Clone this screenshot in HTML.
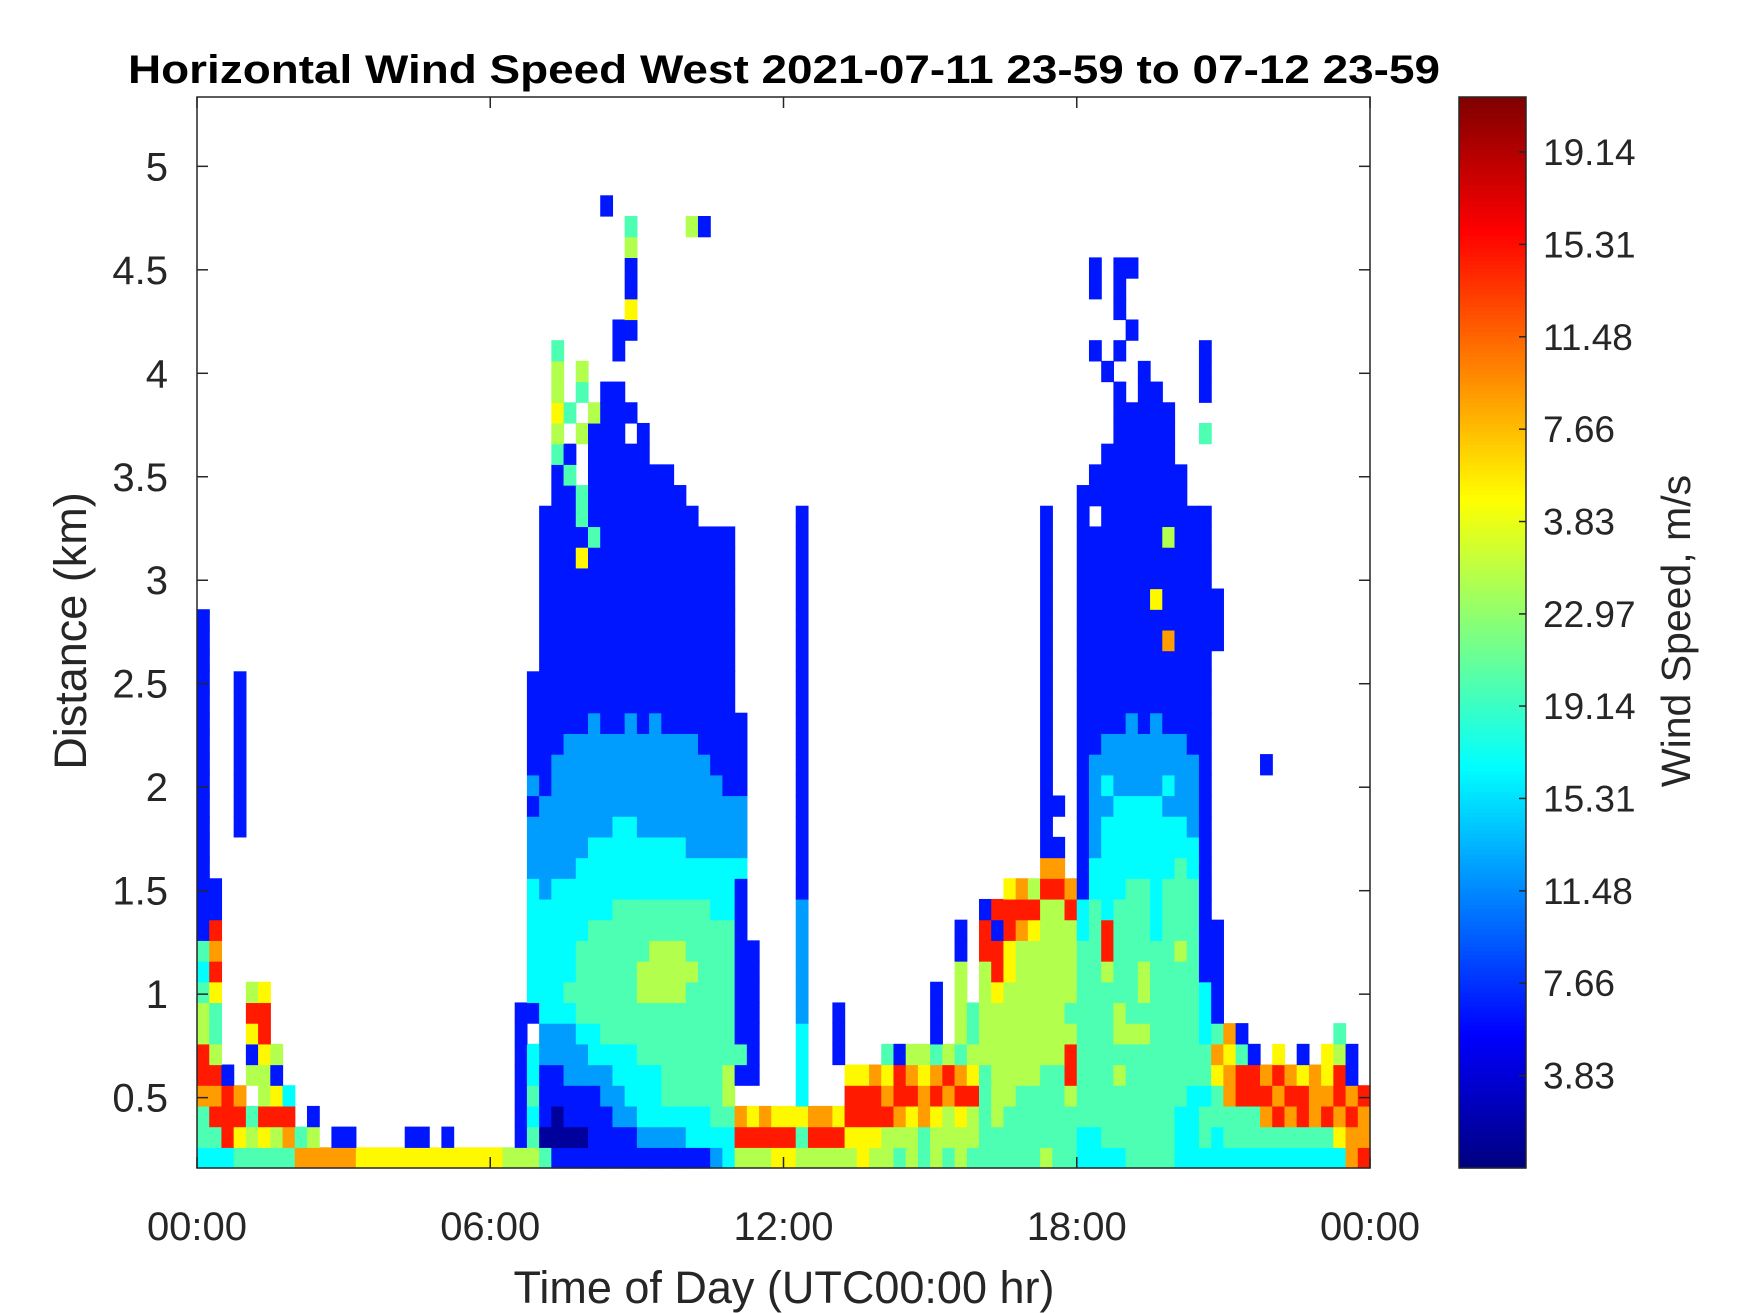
<!DOCTYPE html>
<html><head><meta charset="utf-8"><style>
html,body{margin:0;padding:0;background:#fff;}
svg{display:block;font-family:"Liberation Sans",Arial,sans-serif;}
</style></head><body>
<svg id="chart" width="1750" height="1313" viewBox="0 0 1750 1313" xmlns="http://www.w3.org/2000/svg">
<rect width="1750" height="1313" fill="#fff"/>
<text x="784" y="83" text-anchor="middle" font-size="40" font-weight="bold" fill="#000" textLength="1312" lengthAdjust="spacingAndGlyphs">Horizontal Wind Speed West 2021-07-11 23-59 to 07-12 23-59</text>
<g id="cells"></g>
<g id="axes"></g>
<g id="cbar"></g>
<text x="784" y="1303" text-anchor="middle" font-size="45" fill="#262626">Time of Day (UTC00:00 hr)</text>
<text transform="translate(86,631) rotate(-90)" text-anchor="middle" font-size="45" fill="#262626">Distance (km)</text>
<text transform="translate(1690,631) rotate(-90)" text-anchor="middle" font-size="41" fill="#262626">Wind Speed, m/s</text>
</svg>
<script>
// ---- data ----
const xTickHours = [0, 6, 12, 18, 24];
const xTickLabels = ["00:00", "06:00", "12:00", "18:00", "00:00"];
const yTickKm = [0.5, 1, 1.5, 2, 2.5, 3, 3.5, 4, 4.5, 5];
const yTickLabels = ["0.5", "1", "1.5", "2", "2.5", "3", "3.5", "4", "4.5", "5"];
const cbTickValues = [3.83, 7.66, 11.49, 15.32, 19.15, 22.97, 26.8, 30.63, 34.46, 38.29, 42.12];
const cbTickLabels = ["3.83", "7.66", "11.48", "15.31", "19.14", "22.97", "3.83", "7.66", "11.48", "15.31", "19.14"];
// speed (m/s) for each colour code used in the gate grid
const levelSpeeds = [1.3, 6.5, 12.4, 16.6, 20, 24.4, 28, 32, 37.7, 42.2];
// range-gate rows (index = gate, bottom 0.16 km, 0.1 km each); "startColumn:codes", 96 columns of 15 min
const gateRuns = [
"0:333444447777766666666666655 27:54111111111111123 44:55566555556554545454 64:44444544 72:33334444333 83:3 84:333333333378",
"0:4486565745.11 17:11 20:1 26:1 27:4 28:0000111122223333 44:888884888 53:66655545555 64:44444444 72:33444444334 83:3 84:444444444677",
"0:48884888.1 26:1 27:3 28:1011112233333344 44:767666776 53:88887676565 64:45444444 72:44444444334 83:4 84:444787878787",
"0:7787.563 26:1 27:4 28:1111122333444445 49:3 53:88878878788 64:45544445 72:44444444433 83:4 84:788878877878",
"0:881.551 26:1 27:3 28:1122223333444445 44:11 49:3 53:66768767876 64:45555448 72:44454444444 83:6 84:78878767681",
"0:85..165 26:1 27:3 28:2222333344444444 44:41 49:3 52:1 56:41554545 64:55555558 72:44444444444 83:7641.6.1.651",
"0:54..68 26:1 28:2223344444444444 44:11 49:3 52:1 60:1 62:5 63:4 64:55555555 72:44455544443 83:471.......4",
"0:54..88 26:1 27:1 28:3334444444444444 44:11 49:2 52:1 60:1 62:5 63:4 64:55555554 72:44454444443 83:1",
"0:46..56 27:3 28:3344444455554444 44:11 49:2 60:1 62:5 64:56555555 72:44444544443 83:1",
"0:38 27:3 28:3334444455555444 44:11 49:2 62:5 64:58655555 72:44544544441 83:1",
"0:47 27:3 28:3334444445554444 44:11 49:2 62:1 64:88655555 72:44844444541 83:1",
"0:18 27:3 28:3333444444444444 44:1 49:2 62:1 64:81876555 72:34844434441 83:1",
"0:11 27:3 28:3333334444444433 44:1 49:2 64:18888558 72:34344434441",
"0:11 27:3 28:2333333333333333 44:1 49:1 66:675887 72:13334434441",
"0:1 27:2 28:2223333333333333 44:3 49:1 69:77 72:13333333431",
"0:1 27:2 28:2222333333332222 44:2 49:1 69:11 72:12333333331",
"0:1 3:1 27:2 28:2222223322222222 44:2 49:1 69:1 72:12333333321",
"0:1 3:1 27:1 28:2222222222222222 44:2 49:1 69:11 72:12233332221",
"0:1 3:1 27:2 28:1222222222222221 44:1 49:1 69:1 72:12322223221",
"0:1 3:1 27:1 28:1222222222222211 44:1 49:1 69:1 72:12222222221 87:1",
"0:1 3:1 27:1 28:1122222222222111 44:1 49:1 69:1 72:11222222211",
"0:1 3:1 27:1 28:1111211212111111 44:1 49:1 69:1 72:11112121111",
"0:1 3:1 27:1 28:1111111111111111 49:1 69:1 72:11111111111",
"0:1 3:1 27:1 28:1111111111111111 49:1 69:1 72:11111111111",
"0:1 28:1111111111111111 49:1 69:1 72:11111111111",
"0:1 28:1111111111111111 49:1 69:1 72:11111117111 83:1",
"0:1 28:1111111111111111 49:1 69:1 72:11111111111 83:1",
"28:1111111111111111 49:1 69:1 72:11111161111 83:1",
"28:1111111111111111 49:1 69:1 72:11111111111",
"28:1116111111111111 49:1 69:1 72:11111111111",
"28:1111411111111111 49:1 69:1 72:11111115111",
"28:1114111111111 49:1 69:1 72:1.111111111",
"29:11411111111 72:111111111",
"29:14.1111111 73:11111111",
"29:41.11111 74:111111",
"29:5.5111.1 75:11111 82:4",
"29:64.5111 75:11111",
"29:5.4.11 75:1.11 82:1",
"29:5 31:5 74:1 77:1 82:1",
"29:4 34:1 73:1 75:1 82:1",
"34:11 76:1",
"35:6 75:1",
"35:1 73:1 75:1",
"35:1 73:1 75:1 76:1",
"35:5",
"35:4 40:5 41:1",
"33:1"
];
// ---- layout ----
const NS = "http://www.w3.org/2000/svg";
const PL = 197, PR = 1370, PT = 97, PB = 1168;
const Y0 = 0.16, Y1 = 5.335, GATE0 = 0.16, GATE = 0.1, NCOL = 96, HOURS = 24;
const CBL = 1459, CBR = 1526, CBMAX = 44.4;
const xScale = h => PL + h / HOURS * (PR - PL);
const yScale = km => PB - (km - Y0) / (Y1 - Y0) * (PB - PT);
const cbScale = v => PB - v / CBMAX * (PB - PT);
function jet(t) {
  const c = v => Math.round(255 * Math.max(0, Math.min(1, v)));
  return "rgb(" + c(1.5 - Math.abs(4 * t - 3)) + "," + c(1.5 - Math.abs(4 * t - 2)) + "," + c(1.5 - Math.abs(4 * t - 1)) + ")";
}
function mk(tag, attrs, parent) {
  const e = document.createElementNS(NS, tag);
  for (const k in attrs) e.setAttribute(k, attrs[k]);
  parent.appendChild(e);
  return e;
}
const cells = document.getElementById("cells");
const colH = HOURS / NCOL;
gateRuns.forEach((row, g) => {
  const lo = GATE0 + g * GATE, hi = lo + GATE;
  const yTop = Math.max(PT, yScale(hi)), yBot = yScale(lo);
  row.split(" ").forEach(run => {
    if (!run) return;
    const [s, codes] = run.split(":");
    const start = parseInt(s, 10);
    for (let j = 0; j < codes.length; j++) {
      const col = start + j;
      const ch = codes[j];
      if (ch === "." || col >= NCOL) continue;
      const v = levelSpeeds[parseInt(ch, 10)];
      const x0 = xScale(col * colH), x1 = xScale((col + 1) * colH);
      const r = mk("rect", {x: x0.toFixed(2), y: yTop.toFixed(2), width: (x1 - x0 + 0.6).toFixed(2), height: (yBot - yTop + 0.6).toFixed(2), fill: jet(v / CBMAX)}, cells);
      
      
    }
  });
});
// axes
const axes = document.getElementById("axes");
const box = mk("rect", {x: PL, y: PT, width: PR - PL, height: PB - PT, fill: "none", stroke: "#262626", "stroke-width": 1.5}, axes);


xTickHours.forEach((h, i) => {
  const x = xScale(h);
  mk("line", {x1: x, y1: PB, x2: x, y2: PB - 11, stroke: "#262626", "stroke-width": 1.5}, axes);
  mk("line", {x1: x, y1: PT, x2: x, y2: PT + 11, stroke: "#262626", "stroke-width": 1.5}, axes);
  const t = mk("text", {x: x, y: 1240, "text-anchor": "middle", "font-size": 40, fill: "#262626"}, axes);
  t.textContent = xTickLabels[i];
  
  
});
yTickKm.forEach((k, i) => {
  const y = yScale(k);
  mk("line", {x1: PL, y1: y, x2: PL + 11, y2: y, stroke: "#262626", "stroke-width": 1.5}, axes);
  mk("line", {x1: PR, y1: y, x2: PR - 11, y2: y, stroke: "#262626", "stroke-width": 1.5}, axes);
  const t = mk("text", {x: 168, y: y + 14, "text-anchor": "end", "font-size": 40, fill: "#262626"}, axes);
  t.textContent = yTickLabels[i];
  
  
});
// colorbar
const cb = document.getElementById("cbar");
const steps = 256;
for (let i = 0; i < steps; i++) {
  const y0 = PB - (i + 1) / steps * (PB - PT), y1 = PB - i / steps * (PB - PT);
  mk("rect", {x: CBL, y: y0.toFixed(2), width: CBR - CBL, height: (y1 - y0 + 0.6).toFixed(2), fill: jet((i + 0.5) / steps)}, cb);
}
mk("rect", {x: CBL, y: PT, width: CBR - CBL, height: PB - PT, fill: "none", stroke: "#262626", "stroke-width": 1.5}, cb);
cbTickValues.forEach((v, i) => {
  const y = cbScale(v);
  mk("line", {x1: CBR, y1: y, x2: CBR - 7, y2: y, stroke: "#262626", "stroke-width": 1.5}, cb);
  const t = mk("text", {x: 1543, y: y + 13, "font-size": 37, fill: "#262626"}, cb);
  t.textContent = cbTickLabels[i];
  
  
});
</script>
</body></html>
